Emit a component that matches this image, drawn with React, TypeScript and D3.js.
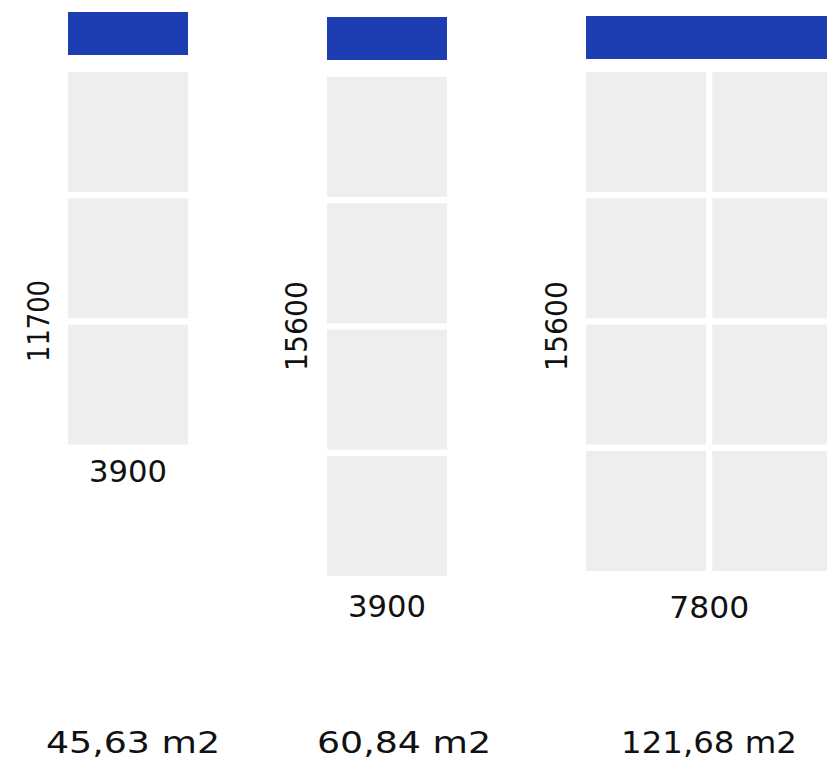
import React from "react";
import * as d3 from "d3";

// ---- data ----
const planNames = ["S", "M", "L"];
const widthsMm = [3900, 3900, 7800];
const heightsMm = [11700, 15600, 15600];
const moduleMm = 3900;
const areaLabels = ["45,63 m2", "60,84 m2", "121,68 m2"];

// ---- layout ----
const W = 827;
const H = 768;
const pitchPx = 126.3;
const gapPx = 6.3;
const planLeft = [68, 327, 586];
const cellTop = [72, 77, 72];
const barTop = [12, 17, 16];
const barH = 43;
const sideLabelPos = [
  [38, 321],
  [296, 326],
  [556, 326],
];
const sideLabelLen = [82, 90, 90];
const widthLabelY = [482, 617, 618];
const widthLabelLen = [78, 78, 80];
const areaLabelX = [133, 404, 709];
const areaLabelY = 753;
const areaLabelLen = [174, 174, 176];

const BLUE = "#1c3eb1";
const GREY = "#eeeeee";
const INK = "#111111";
const FONT = "'DejaVu Sans', sans-serif";

export default function App() {
  const scale = d3.scaleLinear().domain([0, moduleMm]).range([0, pitchPx]);
  const cellSize = scale(moduleMm) - gapPx;

  return (
    <svg
      width={W}
      height={H}
      viewBox={`0 0 ${W} ${H}`}
      style={{ position: "absolute", left: 0, top: 0, background: "#fff", overflow: "hidden" }}
    >
      {planNames.map((name, p) => {
        const cols = Math.round(widthsMm[p] / moduleMm);
        const rows = Math.round(heightsMm[p] / moduleMm);
        const x0 = planLeft[p];
        const y0 = cellTop[p];
        const planW = scale(widthsMm[p]) - gapPx;
        const cells = d3.cross(d3.range(cols), d3.range(rows));
        return (
          <g key={name}>
            <rect x={x0} y={barTop[p]} width={planW} height={barH} fill={BLUE} />
            {cells.map(([c, r]) => (
              <rect
                key={`${c}-${r}`}
                x={x0 + scale(c * moduleMm)}
                y={y0 + scale(r * moduleMm)}
                width={cellSize}
                height={cellSize}
                fill={GREY}
              />
            ))}
            <text
              transform={`translate(${sideLabelPos[p][0]},${sideLabelPos[p][1]}) rotate(-90)`}
              textAnchor="middle"
              dominantBaseline="central"
              fontFamily={FONT}
              fontSize={31}
              fill={INK}
              textLength={sideLabelLen[p]}
              lengthAdjust="spacingAndGlyphs"
            >
              {String(heightsMm[p])}
            </text>
            <text
              x={x0 + planW / 2}
              y={widthLabelY[p]}
              textAnchor="middle"
              fontFamily={FONT}
              fontSize={30}
              fill={INK}
              textLength={widthLabelLen[p]}
              lengthAdjust="spacingAndGlyphs"
            >
              {String(widthsMm[p])}
            </text>
            <text
              x={areaLabelX[p]}
              y={areaLabelY}
              textAnchor="middle"
              fontFamily={FONT}
              fontSize={31}
              fill={INK}
              textLength={areaLabelLen[p]}
              lengthAdjust="spacingAndGlyphs"
            >
              {areaLabels[p]}
            </text>
          </g>
        );
      })}
    </svg>
  );
}
